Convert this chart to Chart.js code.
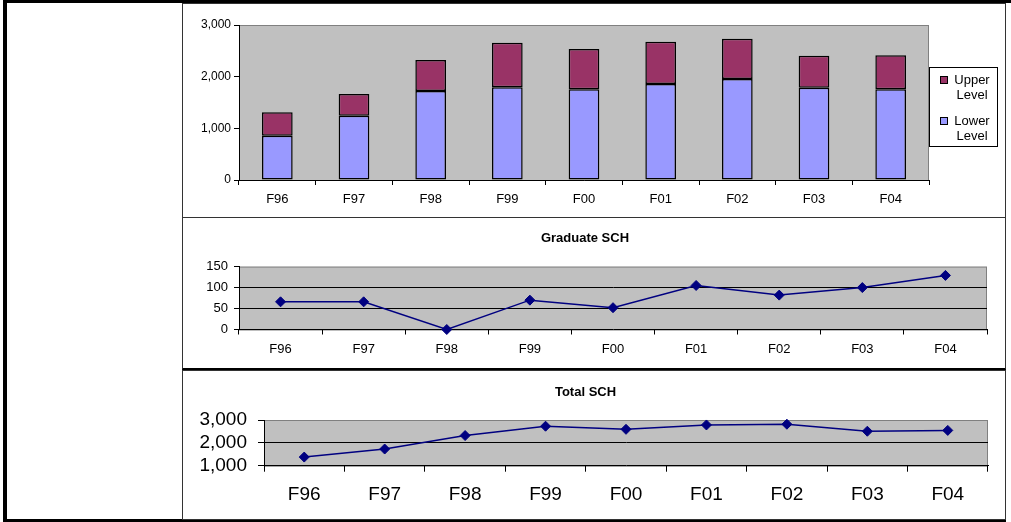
<!DOCTYPE html>
<html>
<head>
<meta charset="utf-8">
<script src="https://cdn.jsdelivr.net/npm/chart.js@4.4.1/dist/chart.umd.min.js"></script>
<style>
  body { margin: 0; background: #fff; width: 1011px; height: 522px; position: relative; overflow: hidden; }
  .frame-left { position: absolute; left: 3px; top: 0; width: 4px; height: 522px; background: #000; }
  .frame-top { position: absolute; left: 3px; top: 0; width: 1008px; height: 3px; background: #000; }
  .frame-bottom { position: absolute; left: 3px; top: 519px; width: 1003px; height: 3px; background: #000; }
  .box { position: absolute; box-sizing: border-box; border: 1px solid #333; }
  canvas { position: absolute; }
</style>
</head>
<body>
<div class="frame-left"></div>
<div class="frame-top"></div>
<div class="frame-bottom"></div>
<div class="box" style="left:182px; top:3px; width:824px; height:215px;"></div>
<div class="box" style="left:182px; top:217px; width:824px; height:153px; border-bottom:2px solid #000;"></div>
<div class="box" style="left:182px; top:370px; width:824px; height:150px;"></div>
<canvas id="levelChart" width="821" height="212" style="left:183px; top:4px;"></canvas>
<canvas id="gradChart" width="821" height="150" style="left:183px; top:218px;"></canvas>
<canvas id="totalChart" width="821" height="147" style="left:183px; top:371px;"></canvas>
<script>
const terms = ['F96', 'F97', 'F98', 'F99', 'F00', 'F01', 'F02', 'F03', 'F04'];
const lowerLevel = [857, 1245, 1723, 1794, 1755, 1858, 1955, 1787, 1755];
const upperLevel = [453, 420, 600, 864, 780, 819, 780, 619, 658];
const graduateSch = [66, 66, 0, 70, 52, 105, 82, 100, 129];
const totalSch = [1378, 1730, 2320, 2728, 2592, 2783, 2815, 2508, 2545];

Chart.defaults.font.family = '"Liberation Sans", Arial, sans-serif';
Chart.defaults.color = '#000';
Chart.defaults.animation = false;
Chart.defaults.plugins.legend.display = false;
Chart.defaults.plugins.tooltip.enabled = false;

let navy = '#000080';
let plotGray = '#c0c0c0';

// gray plot area with a thin darker frame, like the old spreadsheet charts
const plotBackground = {
    id: 'plotBackground',
    beforeDraw(chart) {
        const a = chart.chartArea;
        const ctx = chart.ctx;
        ctx.save();
        ctx.fillStyle = plotGray;
        ctx.fillRect(a.left, a.top, a.right - a.left, a.bottom - a.top);
        ctx.strokeStyle = '#808080';
        ctx.lineWidth = 1;
        ctx.strokeRect(a.left + 0.5, a.top + 0.5, a.right - a.left - 1, a.bottom - a.top);
        ctx.restore();
    }
};

// boxed legend on the right, two-line labels, top dataset listed first
const sideLegend = {
    id: 'sideLegend',
    afterDraw(chart) {
        const a = chart.chartArea;
        const ctx = chart.ctx;
        const left = a.right, top = a.top + 42, w = 69, h = 80;
        ctx.save();
        ctx.fillStyle = '#fff';
        ctx.fillRect(left, top, w, h);
        ctx.strokeStyle = '#000';
        ctx.lineWidth = 1;
        ctx.strokeRect(left + 0.5, top + 0.5, w - 1, h - 1);
        ctx.font = '13px "Liberation Sans", Arial, sans-serif';
        ctx.textAlign = 'center';
        ctx.textBaseline = 'middle';
        const sets = chart.data.datasets.slice().reverse();
        sets.forEach((ds, i) => {
            const cy = top + 13 + i * 41;
            ctx.fillStyle = ds.backgroundColor;
            ctx.fillRect(left + 11, cy - 4, 8, 8);
            ctx.strokeRect(left + 11.5, cy - 3.5, 7, 7);
            ctx.fillStyle = '#000';
            ds.label.forEach((line, j) => {
                ctx.fillText(line, left + 43, cy + j * 15.5);
            });
        });
        ctx.restore();
    }
};

function fixedWidth(w) {
    return (scale) => { scale.width = w; };
}
function fixedHeight(h) {
    return (scale) => { scale.height = h; };
}
function withCommas(v) {
    return Number(v).toLocaleString('en-US');
}

new Chart(document.getElementById('levelChart'), {
    type: 'bar',
    data: {
        labels: terms,
        datasets: [
            {
                label: ['Lower', 'Level'],
                data: lowerLevel,
                backgroundColor: '#9999ff',
                borderColor: '#000',
                borderWidth: 1.5,
                borderSkipped: false,
            },
            {
                label: ['Upper', 'Level'],
                data: upperLevel,
                backgroundColor: '#993366',
                borderColor: '#000',
                borderWidth: 1.5,
                borderSkipped: false,
            }
        ]
    },
    options: {
        responsive: false,
        devicePixelRatio: 1,
        barPercentage: 0.4,
        categoryPercentage: 1,
        layout: { padding: { left: 0, right: 75, top: 21, bottom: 0 } },
        scales: {
            x: {
                stacked: true,
                afterFit: fixedHeight(36),
                border: { color: '#000' },
                grid: { offset: true, drawOnChartArea: false, tickLength: 5, tickColor: '#000' },
                ticks: { font: { size: 13 }, padding: 7, maxRotation: 0 }
            },
            y: {
                stacked: true,
                min: 0,
                max: 3000,
                afterFit: fixedWidth(56),
                border: { color: '#000' },
                grid: { drawOnChartArea: false, tickLength: 5, tickColor: '#000' },
                ticks: { stepSize: 1000, font: { size: 12 }, padding: 3, autoSkip: false, callback: withCommas }
            }
        }
    },
    plugins: [plotBackground, sideLegend]
});

function lineChart(id, title, values, opts) {
    new Chart(document.getElementById(id), {
        type: 'line',
        data: {
            labels: terms,
            datasets: [{
                label: title,
                data: values,
                borderColor: navy,
                backgroundColor: navy,
                borderWidth: 1.5,
                pointStyle: 'rectRot',
                pointRadius: 5,
                pointBorderWidth: 1,
                tension: 0,
                clip: false,
            }]
        },
        options: {
            responsive: false,
            devicePixelRatio: 1,
            layout: { padding: { left: 0, right: opts.padRight, top: 0, bottom: 0 } },
            plugins: {
                title: {
                    display: true,
                    text: title,
                    color: '#000',
                    font: { size: 13, weight: 'bold' },
                    padding: opts.titlePad
                }
            },
            scales: {
                x: {
                    offset: true,
                    afterFit: fixedHeight(opts.xHeight),
                    border: { color: '#000' },
                    grid: { offset: true, drawOnChartArea: false, tickLength: opts.tick, tickColor: '#000' },
                    ticks: { font: { size: opts.fontSize }, padding: opts.xPad, maxRotation: 0 }
                },
                y: {
                    min: opts.min,
                    max: opts.max,
                    afterFit: fixedWidth(opts.yWidth),
                    border: { color: '#000' },
                    grid: {
                        tickLength: opts.tick,
                        tickColor: '#000',
                        color: (c) => (c.tick && (c.tick.value === opts.min || c.tick.value === opts.max)) ? 'rgba(0,0,0,0)' : '#000'
                    },
                    ticks: { stepSize: opts.step, font: { size: opts.fontSize }, padding: opts.yPad, autoSkip: false, callback: withCommas }
                }
            }
        },
        plugins: [plotBackground]
    });
}

lineChart('gradChart', 'Graduate SCH', graduateSch, {
    min: 0, max: 150, step: 50,
    padRight: 17, yWidth: 56, xHeight: 38.5,
    titlePad: { top: 13, bottom: 20 },
    fontSize: 13, tick: 5, xPad: 7, yPad: 6
});

lineChart('totalChart', 'Total SCH', totalSch, {
    min: 1000, max: 3000, step: 1000,
    padRight: 16, yWidth: 81, xHeight: 52.3,
    titlePad: { top: 14, bottom: 19.4 },
    fontSize: 19, tick: 6, xPad: 12, yPad: 11
});
</script>
</body>
</html>
